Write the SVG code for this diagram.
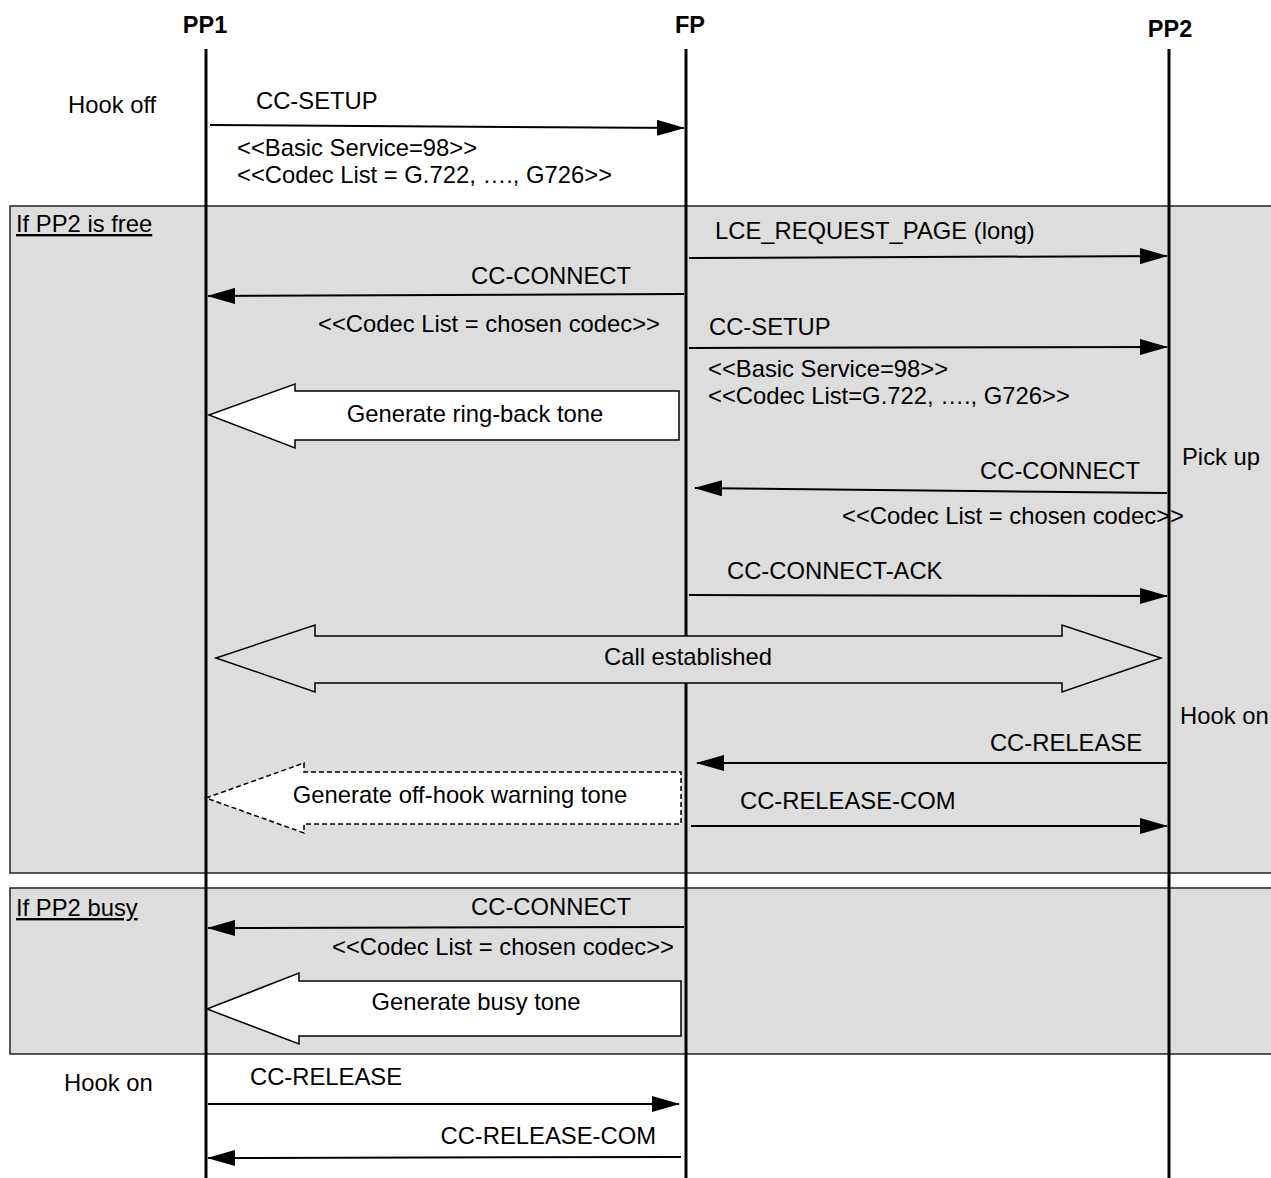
<svg xmlns="http://www.w3.org/2000/svg" width="1271" height="1178" viewBox="0 0 1271 1178">
<style>
text{font-family:"Liberation Sans",Arial,sans-serif;font-size:23.8px;fill:#000}
.hd{font-weight:bold;font-size:23.5px;text-anchor:middle}
.e{text-anchor:end}
.m{text-anchor:middle}
.u{text-decoration:underline}
.life{stroke:#000;stroke-width:3;fill:none}
.box{fill:#dddddd;stroke:#222;stroke-width:1.5}
.msg{stroke:#000;stroke-width:2;fill:none;marker-end:url(#ah)}
.blk{fill:#fff;stroke:#000;stroke-width:1.5}
.dash{fill:#fff;stroke:#000;stroke-width:1.5;stroke-dasharray:5 3}
</style>
<defs>
<marker id="ah" markerUnits="userSpaceOnUse" markerWidth="28" markerHeight="16" refX="27" refY="8" orient="auto">
<path d="M0,0 L28,8 L0,16 z" fill="#000"/>
</marker>
</defs>
<rect width="1271" height="1178" fill="#fff"/>
<g id="frame-free">
<rect class="box" x="10" y="206" width="1275" height="667"/>
<text x="16" y="232" class="u">If PP2 is free</text>
</g>
<g id="frame-busy">
<rect class="box" x="10" y="888" width="1275" height="166"/>
<text x="16" y="916" class="u">If PP2 busy</text>
</g>
<g id="PP1">
<text x="205" y="33" class="hd">PP1</text>
<line class="life" x1="206" y1="49" x2="206" y2="1178"/>
</g>
<g id="FP">
<text x="690" y="33" class="hd">FP</text>
<line class="life" x1="686" y1="49" x2="686" y2="1178"/>
</g>
<g id="PP2">
<text x="1170" y="37" class="hd">PP2</text>
<line class="life" x1="1169" y1="49" x2="1169" y2="1178"/>
</g>
<g id="notes">
<text x="68" y="113">Hook off</text>
<text x="1182" y="465">Pick up</text>
<text x="1180" y="724">Hook on</text>
<text x="64" y="1091">Hook on</text>
</g>
<g id="tones">
<g id="ringback">
<path class="blk" d="M209,415 L295,384 L295,391 L679,391 L679,440 L295,440 L295,448 Z"/>
<text x="475" y="422" class="m">Generate ring-back tone</text>
</g>
<g id="callest">
<path d="M216,658 L315,625 L315,636 L1062,636 L1062,625 L1161,658 L1062,692 L1062,683 L315,683 L315,692 Z" fill="#dddddd" stroke="#000" stroke-width="1.5"/>
<text x="688" y="665" class="m">Call established</text>
</g>
<g id="offhook">
<path class="dash" d="M206,798 L304,763 L304,772 L681,772 L681,824 L304,824 L304,833 Z"/>
<text x="460" y="803" class="m">Generate off-hook warning tone</text>
</g>
<g id="busytone">
<path class="blk" d="M207,1009 L299,973 L299,981 L681,981 L681,1036 L299,1036 L299,1044 Z"/>
<text x="476" y="1010" class="m">Generate busy tone</text>
</g>
</g>
<g id="connectors">
<line class="msg" x1="210" y1="125" x2="684" y2="128"/>
<line class="msg" x1="689" y1="258" x2="1167" y2="256"/>
<line class="msg" x1="684" y1="294" x2="208" y2="296"/>
<line class="msg" x1="689" y1="348" x2="1167" y2="347"/>
<line class="msg" x1="1167" y1="493" x2="695" y2="488"/>
<line class="msg" x1="689" y1="595" x2="1167" y2="596"/>
<line class="msg" x1="1167" y1="763" x2="697" y2="763"/>
<line class="msg" x1="691" y1="826" x2="1167" y2="826"/>
<line class="msg" x1="684" y1="927" x2="208" y2="928"/>
<line class="msg" x1="208" y1="1104" x2="679" y2="1104"/>
<line class="msg" x1="681" y1="1157" x2="208" y2="1158"/>
</g>
<g id="labels">
<text x="256" y="109">CC-SETUP</text>
<text x="237" y="156">&lt;&lt;Basic Service=98&gt;&gt;</text>
<text x="237" y="183">&lt;&lt;Codec List = G.722, …., G726&gt;&gt;</text>
<text x="715" y="239">LCE_REQUEST_PAGE (long)</text>
<text x="631" y="284" class="e">CC-CONNECT</text>
<text x="318" y="332">&lt;&lt;Codec List = chosen codec&gt;&gt;</text>
<text x="709" y="335">CC-SETUP</text>
<text x="708" y="377">&lt;&lt;Basic Service=98&gt;&gt;</text>
<text x="708" y="404">&lt;&lt;Codec List=G.722, …., G726&gt;&gt;</text>
<text x="1140" y="479" class="e">CC-CONNECT</text>
<text x="1184" y="524" class="e">&lt;&lt;Codec List = chosen codec&gt;&gt;</text>
<text x="727" y="579">CC-CONNECT-ACK</text>
<text x="1142" y="751" class="e">CC-RELEASE</text>
<text x="740" y="809">CC-RELEASE-COM</text>
<text x="631" y="915" class="e">CC-CONNECT</text>
<text x="674" y="955" class="e">&lt;&lt;Codec List = chosen codec&gt;&gt;</text>
<text x="250" y="1085">CC-RELEASE</text>
<text x="656" y="1144" class="e">CC-RELEASE-COM</text>
</g>
</svg>
